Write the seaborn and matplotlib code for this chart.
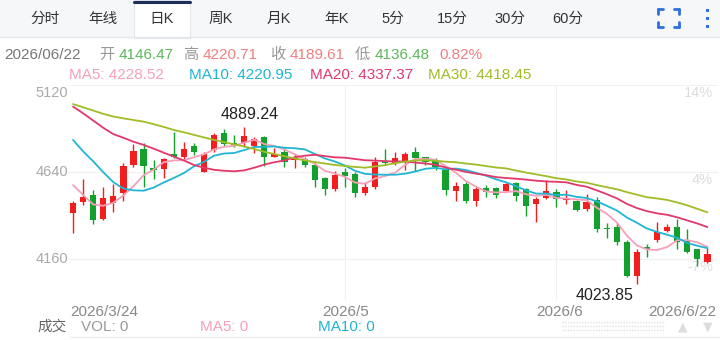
import numpy as np
import pandas as pd
import matplotlib
matplotlib.use("Agg")
import matplotlib.pyplot as plt
import seaborn as sns
from matplotlib.patches import Rectangle

# ---- data ----
opens = [4417, 4476, 4515, 4382, 4472, 4524, 4680, 4767, 4662, 4656,
         4741, 4724, 4782, 4643, 4763, 4855, 4800, 4800, 4785, 4833,
         4726, 4754, 4708, 4712, 4680, 4610, 4546, 4643, 4629, 4524,
         4560, 4701, 4690, 4698, 4749, 4722, 4701, 4654, 4538, 4577,
         4482, 4552, 4552, 4538, 4579, 4546, 4463, 4497, 4533, 4487,
         4483, 4436, 4487, 4334, 4337, 4257, 4068, 4226, 4266, 4316,
         4340, 4266, 4215, 4146.47]
highs = [4483, 4601, 4542, 4557, 4575, 4693, 4794, 4803, 4708, 4720,
         4862, 4804, 4800, 4754, 4855, 4877, 4846, 4889.24, 4833, 4840,
         4772, 4772, 4741, 4723, 4698, 4614, 4649, 4662, 4642, 4588,
         4723, 4769, 4750, 4754, 4777, 4726, 4717, 4669, 4588, 4588,
         4559, 4567, 4559, 4579, 4588, 4553, 4502, 4597, 4546, 4542,
         4487, 4520, 4504, 4359, 4359, 4264, 4215, 4244, 4367, 4355,
         4381, 4326, 4217, 4220.71]
lows = [4307, 4460, 4355, 4377, 4423, 4483, 4668, 4557, 4601, 4610,
        4720, 4711, 4735, 4642, 4754, 4785, 4781, 4781, 4745, 4675,
        4723, 4668, 4662, 4668, 4557, 4512, 4538, 4560, 4502, 4515,
        4546, 4686, 4680, 4650, 4647, 4680, 4654, 4515, 4482, 4469,
        4454, 4504, 4497, 4537, 4483, 4401, 4364, 4491, 4450, 4465,
        4428, 4428, 4312, 4276, 4239, 4062, 4023.85, 4171, 4257, 4309,
        4215, 4193, 4123, 4136.48]
closes = [4472, 4502, 4377, 4497, 4509, 4675, 4759, 4676, 4653, 4712,
          4724, 4767, 4752, 4741, 4846, 4796, 4792, 4840, 4822, 4723,
          4741, 4698, 4717, 4680, 4598, 4546, 4625, 4620, 4527, 4560,
          4698, 4690, 4717, 4741, 4719, 4697, 4668, 4541, 4566, 4482,
          4546, 4533, 4515, 4575, 4511, 4456, 4493, 4538, 4491, 4497,
          4432, 4474, 4326, 4327, 4257, 4068, 4202, 4218, 4309, 4337,
          4257, 4202, 4160, 4189.61]

ma5 = [4569, 4515, 4462, 4455, 4471, 4512, 4563, 4623, 4654, 4695,
       4705, 4706, 4722, 4739, 4766, 4780, 4785, 4803, 4819, 4795,
       4784, 4765, 4740, 4712, 4687, 4648, 4633, 4614, 4583, 4576,
       4606, 4619, 4638, 4681, 4713, 4713, 4708, 4673, 4638, 4591,
       4561, 4534, 4528, 4530, 4536, 4518, 4510, 4515, 4498, 4495,
       4490, 4486, 4444, 4411, 4363, 4290, 4236, 4214, 4211, 4227,
       4265, 4265, 4253, 4228.52]
ma10 = [4818, 4755, 4700, 4640, 4585, 4550, 4540, 4538, 4555, 4583,
        4608, 4635, 4672, 4697, 4731, 4743, 4746, 4762, 4779, 4780,
        4782, 4775, 4772, 4766, 4741, 4716, 4699, 4677, 4648, 4631,
        4627, 4626, 4626, 4632, 4644, 4659, 4664, 4656, 4660, 4652,
        4637, 4621, 4601, 4584, 4563, 4539, 4522, 4522, 4514, 4516,
        4504, 4498, 4479, 4455, 4429, 4390, 4361, 4329, 4311, 4295,
        4278, 4250, 4234, 4220.95]
ma20 = [5002, 4965, 4925, 4885, 4850, 4830, 4808, 4791, 4770, 4748,
        4726, 4705, 4680, 4665, 4653, 4648, 4645, 4650, 4665, 4682,
        4695, 4705, 4722, 4731, 4736, 4729, 4722, 4720, 4713, 4706,
        4704, 4701, 4699, 4699, 4693, 4688, 4681, 4666, 4654, 4642,
        4632, 4624, 4613, 4608, 4604, 4599, 4593, 4589, 4587, 4584,
        4570, 4560, 4540, 4519, 4496, 4465, 4442, 4425, 4413, 4405,
        4391, 4374, 4357, 4337.37]
ma30 = [5016, 4998, 4980, 4962, 4947, 4937, 4928, 4919, 4905, 4890,
        4873, 4860, 4846, 4832, 4818, 4806, 4794, 4782, 4768, 4752,
        4740, 4728, 4716, 4705, 4696, 4688, 4680, 4674, 4669, 4665,
        4672, 4679, 4690, 4698, 4705, 4706, 4703, 4698, 4695, 4688,
        4682, 4674, 4666, 4661, 4649, 4638, 4628, 4618, 4607, 4600,
        4589, 4582, 4569, 4557, 4546, 4530, 4516, 4502, 4495, 4487,
        4473, 4457, 4438, 4418.45]

date_idx = [0, 27, 48, 63]
date_labels = ["2026/3/24", "2026/5", "2026/6", "2026/6/22"]
price_ticks = [5120, 4640, 4160]
pct_labels = ["14%", "4%", "-7%"]
tabs = ["分时", "年线", "日K", "周K", "月K", "年K", "5分", "15分", "30分", "60分"]

RED = "#f21d1d"
GREEN = "#13a02c"
ma_colors = {"MA5": "#f5a0b8", "MA10": "#20b5d3", "MA20": "#e2386c", "MA30": "#9fbd26"}

sns.set_theme(style="white")
plt.rcParams['font.family'] = ['Liberation Sans', 'Noto Sans CJK SC', 'DejaVu Sans']

W, H = 720, 340
fig = plt.figure(figsize=(7.2, 3.4), dpi=100)

def px(x0, y0, x1, y1):
    return [x0 / W, 1 - y1 / H, (x1 - x0) / W, (y1 - y0) / H]

# ---- price panel ----
ax = fig.add_axes(px(68, 85, 718, 300))
n = len(closes)
idx = np.arange(n)
o = np.array(opens); c = np.array(closes)
up = c >= o
cols = np.where(up, RED, GREEN)

ax.set_xlim(-0.5, 64.05)
ax.set_ylim(3935, 5121)

for p in price_ticks:
    ax.axhline(p, color="#f0f0f0", lw=0.8, zorder=0)
for d in date_idx[1:3]:
    ax.axvline(d, color="#f0f0f0", lw=0.8, zorder=0)

ax.vlines(idx, lows, highs, colors=cols, lw=1.0, zorder=2)
body = np.maximum(np.abs(c - o), 5)
ax.bar(idx, body, bottom=np.minimum(o, c), width=0.62, color=cols, zorder=3, linewidth=0)

ma_df = pd.DataFrame({"idx": idx, "MA5": ma5, "MA10": ma10, "MA20": ma20, "MA30": ma30})
ma_long = ma_df.melt(id_vars="idx", var_name="line", value_name="value")
sns.lineplot(data=ma_long, x="idx", y="value", hue="line", palette=ma_colors,
             legend=False, ax=ax, linewidth=1.3, zorder=4)

hi_i = int(np.argmax(highs)); lo_i = int(np.argmin(lows))
ax.text(hi_i + 0.5, highs[hi_i] + 25, f"{highs[hi_i]:.2f}", ha="center", va="bottom",
        fontsize=11.5, color="#222222")
ax.text(lo_i - 0.3, lows[lo_i] - 20, f"{lows[lo_i]:.2f}", ha="right", va="top",
        fontsize=11.5, color="#222222")

ax.set_xticks([]); ax.set_yticks([])
ax.set_xlabel(""); ax.set_ylabel("")
for s in ax.spines.values():
    s.set_visible(False)
ax.patch.set_alpha(0)

# ---- overlay in pixel coordinates ----
ov = fig.add_axes([0, 0, 1, 1], zorder=-1)
ov.set_xlim(0, W); ov.set_ylim(H, 0); ov.axis("off")

ov.add_patch(Rectangle((0, 0), W, 37, color="#f6f7f9", lw=0))
ov.plot([0, W], [37, 37], color="#e3e6ea", lw=1)
ov.add_patch(Rectangle((134, 0), 56, 38, facecolor="white", edgecolor="#e3e6ea", lw=0.8))
ov.plot([134, 190], [1.5, 1.5], color="#1f2d5c", lw=2.2)
tab_x = [45, 103, 162, 221, 279, 337, 393, 452, 510, 568]
for t, x in zip(tabs, tab_x):
    ov.text(x, 19, t, ha="center", va="center", fontsize=10.5, color="#333333")

# fullscreen icon + menu dots
blue = "#2f6fdc"
for (x, y, dx, dy) in [(658, 9, 1, 1), (679, 9, -1, 1), (658, 27, 1, -1), (679, 27, -1, -1)]:
    ov.plot([x, x + 5 * dx], [y, y], color=blue, lw=2)
    ov.plot([x, x], [y, y + 5 * dy], color=blue, lw=2)
for y in [10, 18, 26]:
    ov.add_patch(Rectangle((705.5, y - 1.5), 3, 3, color=blue, lw=0))

# header line 1
seg1 = [(4, "2026/06/22", "#777777"), (99, "开", "#999999"), (119, "4146.47", "#5cb85c"),
        (183, "高", "#999999"), (203, "4220.71", "#f07f7f"), (270, "收", "#999999"),
        (290, "4189.61", "#f07f7f"), (355, "低", "#999999"), (375, "4136.48", "#5cb85c"),
        (439, "0.82%", "#f07f7f")]
for x, t, col in seg1:
    ov.text(x, 55, t, ha="left", va="center", fontsize=11, color=col)
seg2 = [(69, f"MA5: {ma5[-1]:.2f}", ma_colors["MA5"]), (189, f"MA10: {ma10[-1]:.2f}", ma_colors["MA10"]),
        (310, f"MA20: {ma20[-1]:.2f}", ma_colors["MA20"]), (428, f"MA30: {ma30[-1]:.2f}", ma_colors["MA30"])]
for x, t, col in seg2:
    ov.text(x, 75, t, ha="left", va="center", fontsize=11, color=col)

# axis labels
ov.text(68, 93, "5120", ha="right", va="center", fontsize=10.5, color="#aaaaaa")
ov.text(68, 172, "4640", ha="right", va="center", fontsize=10.5, color="#aaaaaa")
ov.text(68, 259, "4160", ha="right", va="center", fontsize=10.5, color="#aaaaaa")
for y, t in zip([93, 180, 267], pct_labels):
    ov.text(713, y, t, ha="right", va="center", fontsize=10.5, color="#dddddd")

date_px = [(70, "left"), (346, "center"), (560, "center"), (716, "right")]
for (x, ha), t in zip(date_px, date_labels):
    ov.text(x, 312, t, ha=ha, va="center", fontsize=11, color="#888888")

# volume strip
ov.text(37, 327, "成交", ha="left", va="center", fontsize=10.5, color="#666666")
ov.text(81, 327, "VOL: 0", ha="left", va="center", fontsize=11, color="#999999")
ov.text(200, 327, "MA5: 0", ha="left", va="center", fontsize=11, color=ma_colors["MA5"])
ov.text(318, 327, "MA10: 0", ha="left", va="center", fontsize=11, color=ma_colors["MA10"])
for y in [322, 326, 330]:
    ov.plot([562, 665], [y, y], color="#e0e0e0", lw=1, ls=(0, (1, 1)))
ov.text(683, 327, "▲", ha="center", va="center", fontsize=9, color="#dddddd", family="DejaVu Sans")
ov.text(708, 327, "▼", ha="center", va="center", fontsize=9, color="#dddddd", family="DejaVu Sans")
ov.plot([70, 720], [337, 337], color="#eeeeee", lw=1)

fig.savefig("out.png", dpi=100, facecolor="white")
